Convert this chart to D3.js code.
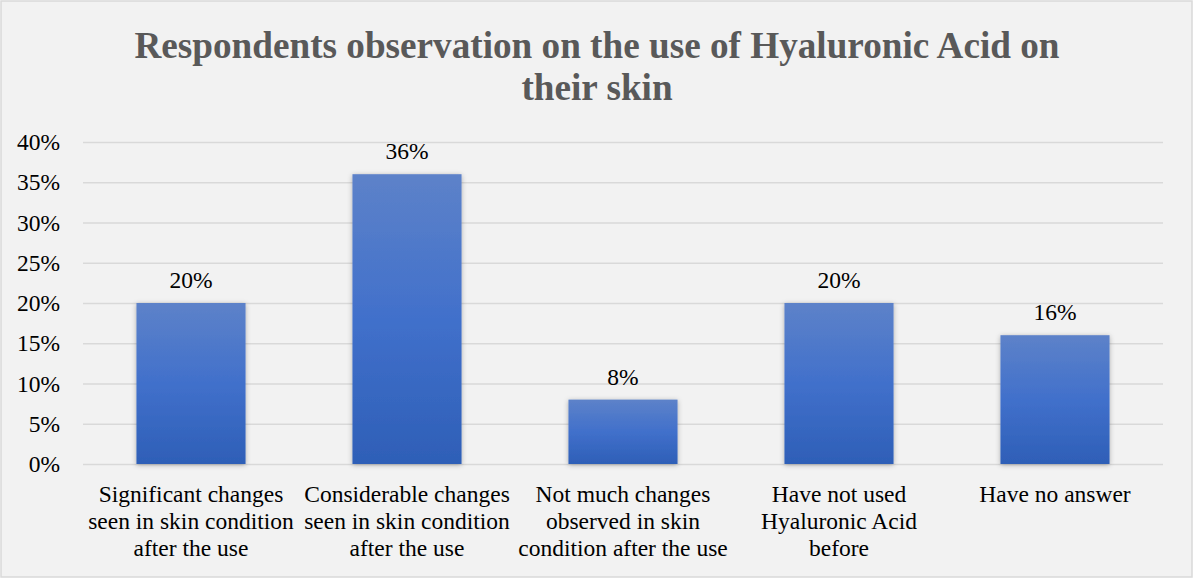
<!DOCTYPE html>
<html>
<head>
<meta charset="utf-8">
<script src="https://cdn.jsdelivr.net/npm/d3@7"></script>
<style>
  body { margin: 0; background: #fff; }
  svg { display: block; }
</style>
</head>
<body>
<div id="chart"></div>
<script>
const categories = [
  'Significant changes seen in skin condition after the use',
  'Considerable changes seen in skin condition after the use',
  'Not much changes observed in skin condition after the use',
  'Have not used Hyaluronic Acid before',
  'Have no answer'
]
const categoryLines = [
  ['Significant changes', 'seen in skin condition', 'after the use'],
  ['Considerable changes', 'seen in skin condition', 'after the use'],
  ['Not much changes', 'observed in skin', 'condition after the use'],
  ['Have not used', 'Hyaluronic Acid', 'before'],
  ['Have no answer']
]
const values = [0.20, 0.36, 0.08, 0.20, 0.16]
const yTicks = [0, 0.05, 0.10, 0.15, 0.20, 0.25, 0.30, 0.35, 0.40]
const titleLines = ['Respondents observation on the use of Hyaluronic Acid on', 'their skin']

const width = 1193
const height = 578
const margin = { top: 142, right: 30, bottom: 114, left: 83 }
const font = '"Liberation Serif", "Times New Roman", serif'
const labelSize = 23.5

const svg = d3.select('#chart')
  .append('svg')
  .attr('width', width)
  .attr('height', height)

const defs = svg.append('defs')
const grad = defs.append('linearGradient')
  .attr('id', 'barGrad')
  .attr('x1', 0).attr('y1', 0).attr('x2', 0).attr('y2', 1)
grad.append('stop').attr('offset', '0%').attr('stop-color', '#5d82c9')
grad.append('stop').attr('offset', '50%').attr('stop-color', '#4170cb')
grad.append('stop').attr('offset', '100%').attr('stop-color', '#2e5fb7')

const shadow = defs.append('filter')
  .attr('id', 'shadow')
  .attr('x', '-20%').attr('y', '-20%').attr('width', '140%').attr('height', '140%')
shadow.append('feDropShadow')
  .attr('dx', 0).attr('dy', 1)
  .attr('stdDeviation', 2.5)
  .attr('flood-color', '#000')
  .attr('flood-opacity', 0.3)

svg.append('rect')
  .attr('x', 1).attr('y', 1)
  .attr('width', width - 2).attr('height', height - 2)
  .attr('fill', '#f2f2f2')
  .attr('stroke', '#d9d9d9')
  .attr('stroke-width', 1.5)

const title = svg.append('text')
  .attr('text-anchor', 'middle')
  .attr('font-family', font)
  .attr('font-weight', 'bold')
  .attr('font-size', 37.2)
  .attr('fill', '#595959')
title.selectAll('tspan')
  .data(titleLines)
  .enter()
  .append('tspan')
  .attr('x', 597)
  .attr('y', (d, i) => 58 + i * 42)
  .text((d) => d)

const x = d3.scaleBand()
  .domain(categories)
  .range([margin.left, width - margin.right])
  .paddingInner(0.495)
  .paddingOuter(0.2475)

const y = d3.scaleLinear()
  .domain([0, 0.40])
  .range([height - margin.bottom, margin.top])

const yAxis = svg.append('g')
  .attr('transform', `translate(${margin.left},0)`)
  .call(d3.axisLeft(y)
    .tickValues(yTicks)
    .tickSize(-(width - margin.left - margin.right))
    .tickPadding(23)
    .tickFormat(d3.format('.0%')))
yAxis.select('.domain').remove()
yAxis.selectAll('.tick line')
  .attr('stroke', '#d9d9d9')
  .attr('stroke-width', 1.5)
yAxis.selectAll('.tick text')
  .attr('font-family', font)
  .attr('font-size', labelSize)
  .attr('fill', '#000')

svg.append('g')
  .selectAll('rect')
  .data(values)
  .enter()
  .append('rect')
  .attr('x', (d, i) => x(categories[i]))
  .attr('y', (d) => y(d))
  .attr('width', x.bandwidth())
  .attr('height', (d) => y(0) - y(d))
  .attr('fill', 'url(#barGrad)')
  .attr('filter', 'url(#shadow)')

svg.append('g')
  .selectAll('text')
  .data(values)
  .enter()
  .append('text')
  .attr('x', (d, i) => x(categories[i]) + x.bandwidth() / 2)
  .attr('y', (d) => y(d) - 15)
  .attr('text-anchor', 'middle')
  .attr('font-family', font)
  .attr('font-size', labelSize)
  .attr('fill', '#000')
  .text(d3.format('.0%'))

const xLabels = svg.append('g')
  .selectAll('text')
  .data(categories)
  .enter()
  .append('text')
  .attr('text-anchor', 'middle')
  .attr('font-family', font)
  .attr('font-size', labelSize)
  .attr('fill', '#000')
xLabels.selectAll('tspan')
  .data((d, i) => categoryLines[i].map((line) => ({ line, cat: d })))
  .enter()
  .append('tspan')
  .attr('x', (d) => x(d.cat) + x.bandwidth() / 2)
  .attr('y', (d, i) => 502 + i * 27)
  .text((d) => d.line)
</script>
</body>
</html>
